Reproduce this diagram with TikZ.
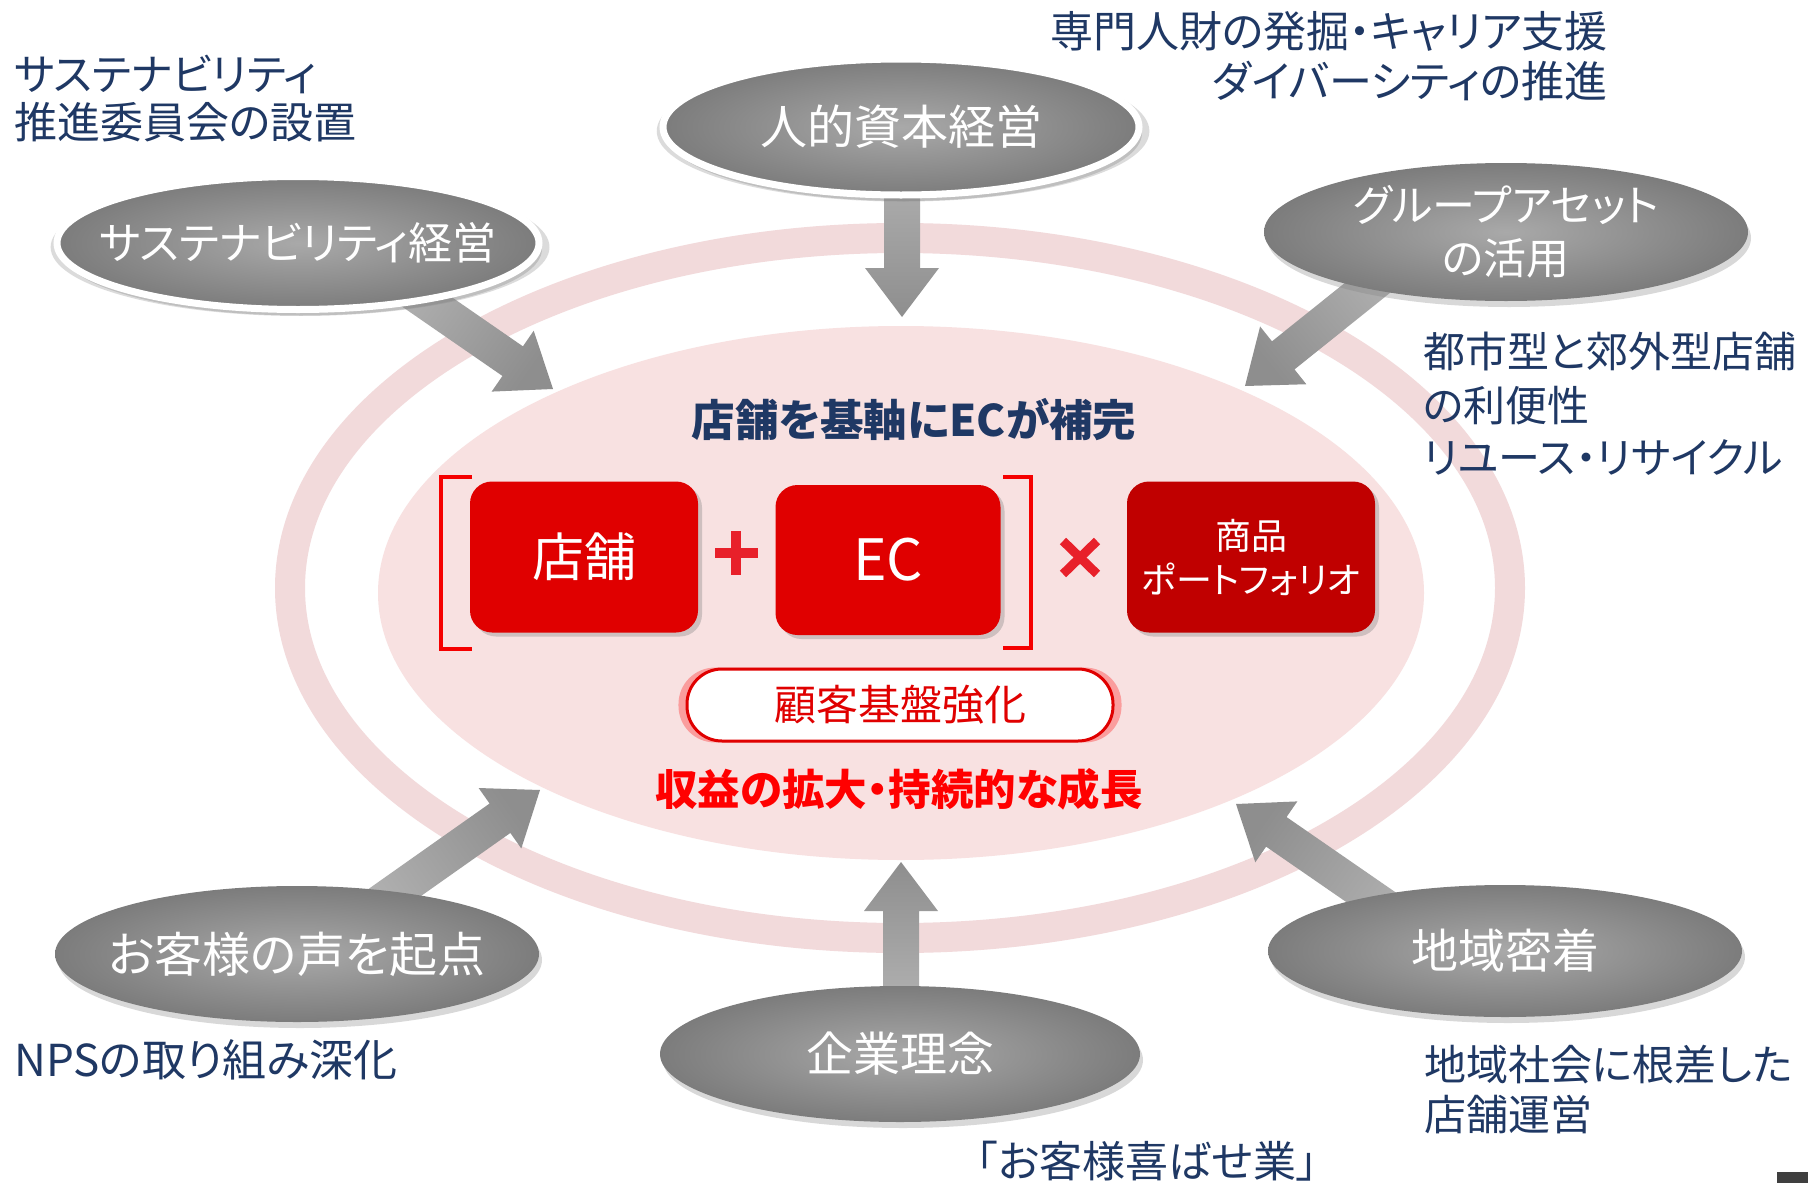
\documentclass[tikz,border=0pt]{standalone}
\usepackage{fontspec}
\setmainfont{Noto Sans CJK JP}[CharacterWidth=AlternateProportional]
\usetikzlibrary{shapes.geometric,shadows,calc,backgrounds}
\definecolor{navy}{HTML}{1F3864}
\definecolor{ringpink}{HTML}{F2DADB}
\definecolor{innerpink}{HTML}{F8E1E1}
\definecolor{boxred}{HTML}{E00000}
\definecolor{brred}{HTML}{F50000}
\definecolor{darkred}{HTML}{C00000}
\definecolor{txtred}{HTML}{FF0000}
\definecolor{symred}{HTML}{E8202A}
\definecolor{gin}{HTML}{A9A9A9}
\definecolor{gout}{HTML}{7C7C7C}
\definecolor{alight}{HTML}{B2B2B2}
\definecolor{adark}{HTML}{8E8E8E}
\definecolor{cornergray}{HTML}{3F3F3F}
\pgfdeclareradialshading{ellshade}{\pgfpoint{0bp}{0bp}}{color(0bp)=(gin); color(25bp)=(gout); color(50bp)=(gout)}
% #1 start, #2 tip, #3 name, #4 shading angle
\newcommand\grayarrow[4]{%
  \coordinate (#3h) at ($(#2)!49pt!(#1)$);
  \shade[top color=alight, bottom color=adark, shading angle=#4]
    ($(#1)!18pt!90:(#2)$) -- ($(#3h)!18pt!90:(#2)$) -- ($(#3h)!37pt!90:(#2)$) -- (#2)
    -- ($(#3h)!37pt!-90:(#2)$) -- ($(#3h)!18pt!-90:(#2)$) -- ($(#1)!18pt!-90:(#2)$) -- cycle;}
\begin{document}
\begin{tikzpicture}[x=1pt,y=-1pt,
  ell/.style={ellipse, shade, shading=ellshade, inner sep=0pt,
    drop shadow={opacity=0.3, shadow xshift=3pt, shadow yshift=-6pt}},
  wb/.style={draw=white, line width=7pt,
    drop shadow={opacity=0.28, shadow xshift=2pt, shadow yshift=-4pt, shadow scale=1.035}},
  elltext/.style={text=white, align=center, inner sep=0pt},
  anno/.style={text=navy, inner sep=0pt, font=\fontsize{43pt}{50pt}\selectfont},
  redbox/.style={rounded corners=22pt, text=white, inner sep=0pt, align=center,
    drop shadow={opacity=0.35, shadow xshift=4pt, shadow yshift=-4pt}},
  brk/.style={draw=brred, line width=4.5pt},
  sym/.style={draw=symred, line width=10pt},
]
\useasboundingbox (0,0) rectangle (1808,1183);

% ---- gray ellipses ----
\node[ell, wb, minimum width=482pt, minimum height=133pt] (sus) at (298,243) {};
\node[elltext, font=\fontsize{44pt}{50pt}\selectfont] (sust) at (sus) {サステナビリティ経営};
\node[ell, wb, minimum width=476pt, minimum height=136pt] (hr) at (901,127) {};
\node[elltext, font=\fontsize{47pt}{56pt}\selectfont] (hrt) at (hr) {人的資本経営};
\node[ell, minimum width=484pt, minimum height=138pt] (ga) at (1506,232) {};
\node[elltext, font=\fontsize{43pt}{53pt}\selectfont] (gat) at (ga) {グループアセット\\の活用};
\node[ell, minimum width=484pt, minimum height=136pt] (voc) at (297,954) {};
\node[elltext, font=\fontsize{48pt}{56pt}\selectfont] (voct) at (voc) {お客様の声を起点};
\node[ell, minimum width=480pt, minimum height=136pt] (phil) at (900,1054) {};
\node[elltext, font=\fontsize{47pt}{56pt}\selectfont] (philt) at (phil) {企業理念};
\node[ell, minimum width=474pt, minimum height=132pt] (local) at (1505,951) {};
\node[elltext, font=\fontsize{47pt}{56pt}\selectfont] (localt) at (local) {地域密着};

% ---- arrow end points ----
\coordinate (susS) at (388,275);  \coordinate (susT) at (553,389);
\coordinate (hrS) at (902,160);   \coordinate (hrT) at (902,317);
\coordinate (gaS) at (1401,261);  \coordinate (gaT) at (1245,386);
\coordinate (vocS) at (360,917);  \coordinate (vocT) at (540,790);
\coordinate (philS) at (901,1010);\coordinate (philT) at (901,862);
\coordinate (locS) at (1417,929); \coordinate (locT) at (1236,804);

\begin{pgfonlayer}{background}
  \fill[white] (0,0) rectangle (1808,1183);
  \draw[ringpink, line width=30pt] (900,588) ellipse [x radius=610, y radius=350];
  \fill[innerpink] (901,593) ellipse [x radius=523, y radius=267];
  \grayarrow{susS}{susT}{a1}{55}
  \grayarrow{hrS}{hrT}{a2}{0}
  \grayarrow{gaS}{gaT}{a3}{-51}
  \grayarrow{vocS}{vocT}{a4}{125}
  \grayarrow{philS}{philT}{a5}{180}
  \grayarrow{locS}{locT}{a6}{235}
\end{pgfonlayer}

% ---- centre ----
\node[text=navy, inner sep=0pt, font=\bfseries\fontsize{43.5pt}{50pt}\selectfont] (title) at (914,420) {店舗を基軸にECが補完};
\node[redbox, fill=boxred, minimum width=228pt, minimum height=151pt, font=\fontsize{52pt}{60pt}\selectfont] (store) at (584,557) {店舗};
\node[redbox, fill=boxred, minimum width=225pt, minimum height=150pt, font=\fontsize{57pt}{64pt}\selectfont] (ec) at (888,560) {EC};
\node[redbox, fill=darkred, minimum width=248pt, minimum height=151pt, font=\fontsize{36pt}{44pt}\selectfont] (prod) at (1251,557) {商品\\ポートフォリオ};
\draw[brk] (472,477) -- (441,477) -- (441,649) -- (472,649);
\draw[brk] (1003,477) -- (1031,477) -- (1031,648) -- (1003,648);
\draw[sym] (715,553) -- (758,553) (736,531) -- (736,575);
\draw[sym, line width=9pt] (1063,541) -- (1097,574) (1097,541) -- (1063,574);
\node[draw=boxred, line width=3pt, fill=white, rounded corners=35pt, minimum width=426pt, minimum height=72pt,
  text=boxred, inner sep=0pt, font=\fontsize{42pt}{50pt}\selectfont,
  drop shadow={fill=red, opacity=0.3, shadow xshift=0pt, shadow yshift=0pt, shadow scale=1.04}] (cust) at (900,705) {顧客基盤強化};
\node[text=txtred, inner sep=0pt, font=\bfseries\fontsize{42.5pt}{48pt}\selectfont] (growth) at (899,789) {収益の拡大・持続的な成長};

% ---- annotations ----
\node[anno, anchor=base west] (tl1) at (14,90) {サステナビリティ};
\node[anno, anchor=base west] (tl2) at (14,138) {推進委員会の設置};
\node[anno, anchor=base east] (tr1) at (1608,47) {専門人財の発掘・キャリア支援};
\node[anno, anchor=base east] (tr2) at (1608,97) {ダイバーシティの推進};
\node[anno, anchor=base west, font=\fontsize{42pt}{50pt}\selectfont] (r1) at (1423,367) {都市型と郊外型店舗};
\node[anno, anchor=base west, font=\fontsize{42pt}{50pt}\selectfont] (r2) at (1423,421) {の利便性};
\node[anno, anchor=base west, font=\fontsize{42pt}{50pt}\selectfont] (r3) at (1423,473) {リユース・リサイクル};
\node[anno, anchor=base west, font=\fontsize{44pt}{50pt}\selectfont] (bl) at (14,1076) {NPSの取り組み深化};
\node[anno, anchor=base west, font=\fontsize{42pt}{50pt}\selectfont] (br1) at (1424,1080) {地域社会に根差した};
\node[anno, anchor=base west, font=\fontsize{42pt}{50pt}\selectfont] (br2) at (1424,1130) {店舗運営};
\node[anno, anchor=base] (bc) at (1147,1177) {「お客様喜ばせ業」};

\fill[cornergray] (1777,1172) rectangle (1808,1183);
\end{tikzpicture}
\end{document}
